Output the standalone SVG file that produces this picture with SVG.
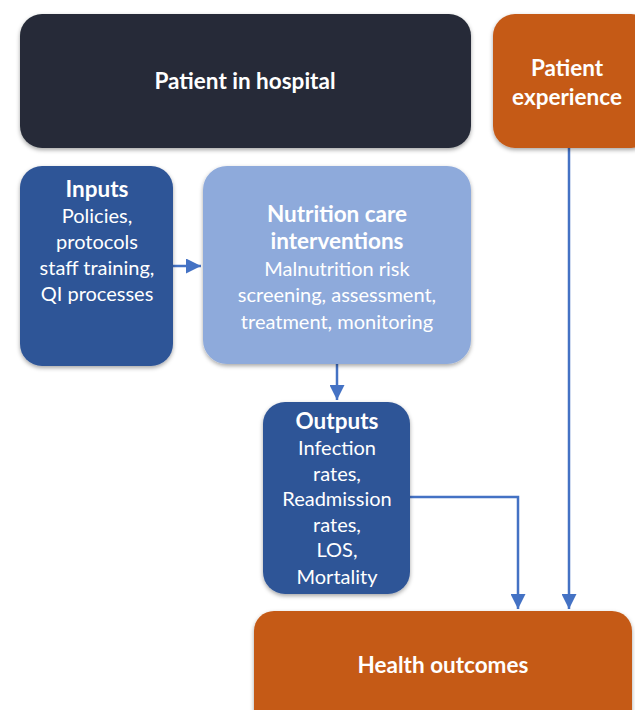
<svg xmlns="http://www.w3.org/2000/svg" width="635" height="710" viewBox="0 0 635 710">
<style>
text{font-family:Lato,"Open Sans","Liberation Sans",sans-serif;fill:#fff;text-anchor:middle;font-size:20px}
.b{font-weight:bold;font-size:22.5px}
.c{fill:none;stroke:#4472c4;stroke-width:2.5}
</style>
<defs>
<filter id="sh" x="-10%" y="-10%" width="120%" height="130%"><feDropShadow dx="0" dy="2" stdDeviation="2" flood-color="#000" flood-opacity="0.35"/></filter>
<marker id="ah" viewBox="0 0 10 10" refX="10" refY="5" markerWidth="6" markerHeight="6" orient="auto" markerUnits="strokeWidth"><path d="M0,0L10,5L0,10z" fill="#4472c4"/></marker>
</defs>
<g id="connectors">
<path class="c" d="M173,266H201" marker-end="url(#ah)"/>
<path class="c" d="M337,364V400" marker-end="url(#ah)"/>
<path class="c" d="M410,497H518V609" marker-end="url(#ah)"/>
<path class="c" d="M569,148V609" marker-end="url(#ah)"/>
</g>
<g id="hospital"><rect x="20" y="14" width="451" height="134" rx="22" fill="#262c38" filter="url(#sh)"/><text class="b" x="245" y="89">Patient in hospital</text></g>
<g id="experience"><rect x="493" y="14" width="160" height="134" rx="22" fill="#c55a18" filter="url(#sh)"/><text class="b" x="567" y="76">Patient</text><text class="b" x="567" y="105">experience</text></g>
<g id="inputs"><rect x="20" y="166" width="153" height="200" rx="22" fill="#2f5597" filter="url(#sh)"/>
<text class="b" x="97" y="197">Inputs</text><text x="97" y="223">Policies,</text><text x="97" y="249">protocols</text><text x="97" y="275">staff training,</text><text x="97" y="301">QI processes</text></g>
<g id="nutrition"><rect x="203" y="166" width="268" height="198" rx="24" fill="#8eaadb" filter="url(#sh)"/>
<text class="b" x="337" y="222">Nutrition care</text><text class="b" x="337" y="249">interventions</text><text x="337" y="276">Malnutrition risk</text><text x="337" y="302">screening, assessment,</text><text x="337" y="329">treatment, monitoring</text></g>
<g id="outputs"><rect x="263" y="402" width="147" height="192" rx="22" fill="#2f5597" filter="url(#sh)"/>
<text class="b" x="337" y="429">Outputs</text><text x="337" y="455">Infection</text><text x="337" y="481">rates,</text><text x="337" y="506">Readmission</text><text x="337" y="532">rates,</text><text x="337" y="557">LOS,</text><text x="337" y="584">Mortality</text></g>
<g id="health"><rect x="254" y="611" width="378" height="120" rx="20" fill="#c55a18" filter="url(#sh)"/><text class="b" x="443" y="673">Health outcomes</text></g>
</svg>
